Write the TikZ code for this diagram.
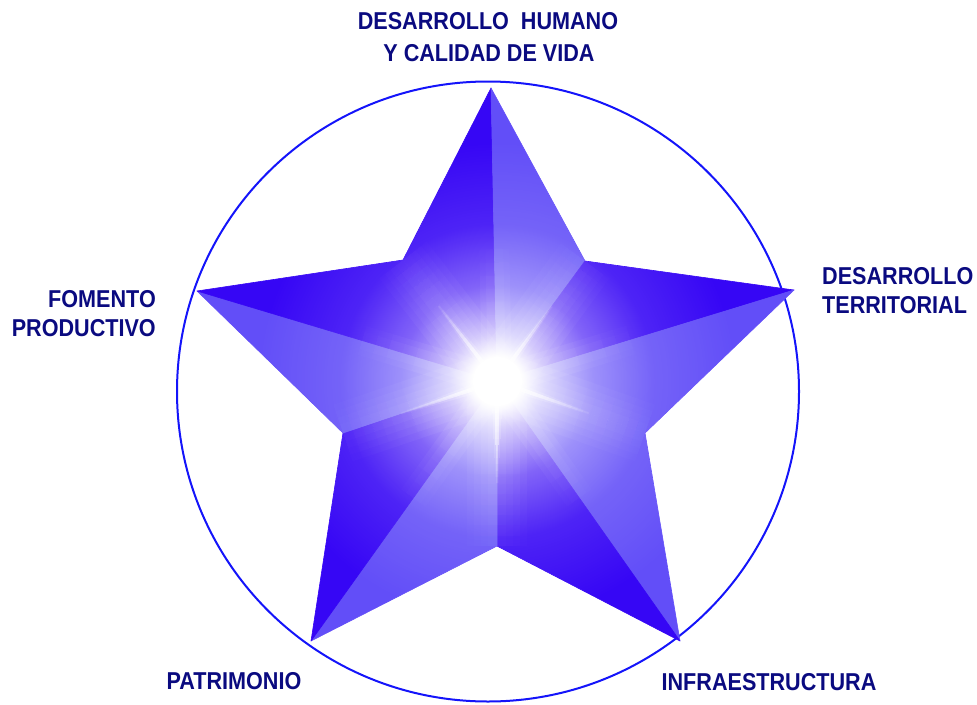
\documentclass[tikz,border=0pt]{standalone}
\usepackage{fontspec}
\setmainfont{Liberation Sans}[FakeStretch=0.885]
\usetikzlibrary{fadings,calc}
\definecolor{navy}{RGB}{10,10,128}
\definecolor{ringblue}{RGB}{20,20,250}
\definecolor{facedark}{RGB}{54,6,245}
\definecolor{facelight}{RGB}{98,78,248}
\pgfdeclareradialshading{glowshade}{\pgfpointorigin}{color(0bp)=(white); color(2bp)=(white); color(4bp)=(white!75!black); color(8bp)=(white!38!black); color(13bp)=(white!12!black); color(20bp)=(black); color(50bp)=(black)}
\pgfdeclarefading{glow}{\pgfuseshading{glowshade}}
\tikzset{
  lbl/.style={font=\fontsize{24.4}{30}\selectfont\bfseries, text=navy, inner sep=0pt},
  ring/.style={draw=ringblue, line width=2pt},
  darkface/.style={fill=facedark, draw=facedark, line width=0.6pt},
  lightface/.style={fill=facelight, draw=facelight, line width=0.6pt},
}
\begin{document}
\begin{tikzpicture}[x=1pt,y=-1pt]
\useasboundingbox (0,0) rectangle (977,704);
% star geometry
\coordinate (C) at (497,381);
\coordinate (T) at (491,88);
\coordinate (TR) at (585,261);
\coordinate (R) at (794,290);
\coordinate (RI) at (645,433);
\coordinate (BR) at (680,641);
\coordinate (B) at (497,546);
\coordinate (BL) at (311,641);
\coordinate (LI) at (343,433);
\coordinate (L) at (197,291);
\coordinate (TL) at (403,260);
% ring
\draw[ring] (488,391.5) ellipse[x radius=311pt, y radius=310pt];
% faces
\begin{scope}[line join=round]
\path[darkface]  (C) -- (TL) -- (T) -- cycle;
\path[lightface] (C) -- (T) -- (TR) -- cycle;
\path[darkface]  (C) -- (TR) -- (R) -- cycle;
\path[lightface] (C) -- (R) -- (RI) -- cycle;
\path[lightface] (C) -- (RI) -- (BR) -- cycle;
\path[darkface]  (C) -- (BR) -- (B) -- cycle;
\path[lightface] (C) -- (B) -- (BL) -- cycle;
\path[darkface]  (C) -- (BL) -- (LI) -- cycle;
\path[lightface] (C) -- (LI) -- (L) -- cycle;
\path[darkface]  (C) -- (L) -- (TL) -- cycle;
\end{scope}
% glow and streaks
\begin{scope}
\clip (T) -- (TR) -- (R) -- (RI) -- (BR) -- (B) -- (BL) -- (LI) -- (L) -- (TL) -- cycle;
% soft light bands along the valleys
\foreach \V in {TL,TR,RI,B,LI}{
  \foreach \w in {60,46,32,18}{
    \foreach \i in {0,...,15}{
      \draw[white, line width=\w pt, opacity={0.075-0.0042*\i}]
        ($(C)!{\i/16}!(\V)$) -- ($(C)!{(\i+1)/16}!(\V)$);
    }
  }
}
% soft light bands along the ridges near the centre
\foreach \V in {T,R,BR,BL,L}{
  \foreach \w in {30,18}{
    \foreach \i in {0,...,9}{
      \draw[white, line width=\w pt, opacity={0.1-0.01*\i}]
        ($(C)!{\i/10*0.45}!(\V)$) -- ($(C)!{(\i+1)/10*0.45}!(\V)$);
    }
  }
}
\fill[white, path fading=glow] (C) circle[radius=300pt];
% bright streaks along the valleys
\foreach \V in {TL,TR,RI,B,LI}{
  \foreach \i in {0,...,15}{
    \draw[white, line width={12-0.6*\i}, opacity={0.3-0.018*\i}]
      ($(C)!{\i/16*0.62}!(\V)$) -- ($(C)!{(\i+1)/16*0.62}!(\V)$);
    \draw[white, line width={5-0.22*\i}, opacity={0.95-0.058*\i}]
      ($(C)!{\i/16*0.62}!(\V)$) -- ($(C)!{(\i+1)/16*0.62}!(\V)$);
  }
}
\end{scope}
% labels
\node[lbl, anchor=base] (dh1) at (488,29.5) {DESARROLLO~~HUMANO};
\node[lbl, anchor=base] (dh2) at (489,61) {Y CALIDAD DE VIDA};
\node[lbl, anchor=base west] (dt1) at (822,284.5) {DESARROLLO};
\node[lbl, anchor=base west] (dt2) at (822,313) {TERRITORIAL};
\node[lbl, anchor=base east] (fp1) at (156,307.5) {FOMENTO};
\node[lbl, anchor=base east] (fp2) at (156,336) {PRODUCTIVO};
\node[lbl, anchor=base] (pat) at (234,689) {PATRIMONIO};
\node[lbl, anchor=base] (inf) at (769,690) {INFRAESTRUCTURA};
\end{tikzpicture}
\end{document}
